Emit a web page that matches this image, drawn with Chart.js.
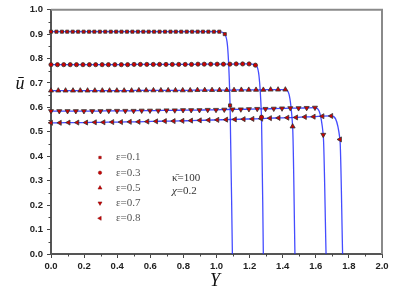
<!DOCTYPE html>
<html lang="en">
<head>
<meta charset="UTF-8">
<title>u-bar vs Y</title>
<script src="https://cdn.jsdelivr.net/npm/chart.js"></script>
<style>
  html, body { margin: 0; padding: 0; background: #fff; }
  canvas { display: block; }
</style>
</head>
<body>
<canvas id="chart" width="403" height="295"></canvas>
<script>
// eps = 0.1
const y01 = [0, 0.033, 0.066, 0.098, 0.131, 0.164, 0.197, 0.230, 0.262, 0.295, 0.328, 0.361, 0.394, 0.426, 0.459, 0.492, 0.525,
  0.558, 0.590, 0.623, 0.656, 0.689, 0.722, 0.754, 0.787, 0.820, 0.853, 0.886, 0.918, 0.951, 0.984, 1.017, 1.050, 1.082];
const u01 = [0.910, 0.910, 0.910, 0.910, 0.910, 0.910, 0.910, 0.910, 0.910, 0.910, 0.910, 0.910, 0.910, 0.910, 0.910, 0.910, 0.910,
  0.910, 0.910, 0.910, 0.910, 0.910, 0.910, 0.910, 0.910, 0.910, 0.910, 0.910, 0.910, 0.910, 0.910, 0.910, 0.900, 0.608];
const end01 = 1.096;

// eps = 0.3
const y03 = [0, 0.039, 0.077, 0.116, 0.154, 0.193, 0.232, 0.270, 0.309, 0.347, 0.386, 0.425, 0.463, 0.502, 0.540, 0.579, 0.618,
  0.656, 0.695, 0.733, 0.772, 0.811, 0.849, 0.888, 0.926, 0.965, 1.004, 1.042, 1.081, 1.119, 1.158, 1.197, 1.235, 1.272];
const u03 = [0.775, 0.775, 0.775, 0.775, 0.775, 0.775, 0.775, 0.775, 0.775, 0.775, 0.775, 0.775, 0.775, 0.776, 0.776, 0.776, 0.776,
  0.776, 0.776, 0.776, 0.776, 0.776, 0.776, 0.777, 0.777, 0.777, 0.777, 0.777, 0.777, 0.778, 0.778, 0.778, 0.773, 0.560];
const end03 = 1.283;

// eps = 0.5
const y05 = [0, 0.044, 0.088, 0.133, 0.177, 0.221, 0.265, 0.310, 0.354, 0.398, 0.442, 0.487, 0.531, 0.575, 0.619, 0.664, 0.708,
  0.752, 0.796, 0.841, 0.885, 0.929, 0.973, 1.018, 1.062, 1.106, 1.150, 1.195, 1.239, 1.283, 1.327, 1.372, 1.416, 1.460];
const u05 = [0.669, 0.669, 0.669, 0.669, 0.669, 0.669, 0.669, 0.669, 0.669, 0.669, 0.669, 0.669, 0.670, 0.670, 0.670, 0.670, 0.670,
  0.670, 0.670, 0.670, 0.671, 0.671, 0.671, 0.671, 0.671, 0.671, 0.672, 0.672, 0.672, 0.672, 0.673, 0.673, 0.673, 0.522];
const end05 = 1.474;

// eps = 0.7
const y07 = [0, 0.050, 0.100, 0.150, 0.199, 0.249, 0.299, 0.349, 0.399, 0.449, 0.499, 0.548, 0.598, 0.648, 0.698, 0.748, 0.798,
  0.847, 0.897, 0.947, 0.997, 1.047, 1.097, 1.147, 1.196, 1.246, 1.296, 1.346, 1.396, 1.446, 1.496, 1.545, 1.595, 1.645];
const u07 = [0.585, 0.585, 0.585, 0.585, 0.585, 0.585, 0.585, 0.586, 0.586, 0.586, 0.586, 0.587, 0.587, 0.587, 0.588, 0.588, 0.589,
  0.589, 0.589, 0.590, 0.590, 0.591, 0.592, 0.592, 0.593, 0.594, 0.594, 0.595, 0.596, 0.597, 0.597, 0.598, 0.599, 0.488];
const end07 = 1.662;

// eps = 0.8
const y08 = [0, 0.053, 0.106, 0.159, 0.212, 0.265, 0.317, 0.370, 0.423, 0.476, 0.529, 0.582, 0.635, 0.688, 0.741, 0.794, 0.846,
  0.899, 0.952, 1.005, 1.058, 1.111, 1.164, 1.217, 1.270, 1.323, 1.375, 1.428, 1.481, 1.534, 1.587, 1.640, 1.693, 1.746];
const u08 = [0.537, 0.537, 0.538, 0.538, 0.538, 0.539, 0.539, 0.540, 0.540, 0.541, 0.541, 0.542, 0.543, 0.544, 0.544, 0.545, 0.546,
  0.547, 0.548, 0.549, 0.550, 0.551, 0.552, 0.553, 0.554, 0.556, 0.557, 0.558, 0.559, 0.561, 0.562, 0.564, 0.565, 0.469];
const end08 = 1.762;

const seriesLabels = ['\u03b5=0.1', '\u03b5=0.3', '\u03b5=0.5', '\u03b5=0.7', '\u03b5=0.8'];
const xMinorTicks = [0.1, 0.3, 0.5, 0.7, 0.9, 1.1, 1.3, 1.5, 1.7, 1.9];
const yMinorTicks = [0.05, 0.15, 0.25, 0.35, 0.45, 0.55, 0.65, 0.75, 0.85, 0.95];

const series = [
  { ys: y01, us: u01, end: end01, style: 'rect', rot: 0, r: 2.2 },
  { ys: y03, us: u03, end: end03, style: 'circle', rot: 0, r: 2.1 },
  { ys: y05, us: u05, end: end05, style: 'triangle', rot: 0, r: 2.9 },
  { ys: y07, us: u07, end: end07, style: 'triangle', rot: 180, r: 2.9 },
  { ys: y08, us: u08, end: end08, style: 'triangle', rot: -90, r: 2.9 }
];

const MARK_FILL = '#d00000';
const MARK_EDGE = '#333';
const LINE_BLUE = 'rgba(35,45,255,0.85)';

const datasets = [];
series.forEach((s, i) => {
  const pts = s.ys.map((y, k) => ({ x: y, y: s.us[k] }));
  datasets.push({
    label: seriesLabels[i] + ' line',
    data: pts.concat([{ x: s.end, y: 0 }]),
    showLine: true,
    borderColor: LINE_BLUE,
    borderWidth: 1.3,
    pointRadius: 0,
    cubicInterpolationMode: 'monotone',
    order: 2
  });
  datasets.push({
    label: seriesLabels[i],
    data: pts,
    showLine: false,
    pointStyle: s.style,
    rotation: s.rot,
    pointRadius: s.r,
    backgroundColor: MARK_FILL,
    borderColor: MARK_EDGE,
    borderWidth: 0.8,
    clip: false,
    order: 1
  });
});

const tickFont = { family: 'Liberation Sans, Arial, sans-serif', size: 9.5, weight: 'bold' };

const decor = {
  id: 'decor',
  afterDraw(chart) {
    const ctx = chart.ctx;
    const a = chart.chartArea;
    const xs = chart.scales.x, ys = chart.scales.y;
    ctx.save();
    // top & right frame
    ctx.strokeStyle = '#8a8a8a';
    ctx.lineWidth = 2;
    ctx.beginPath();
    ctx.moveTo(a.left, a.top);
    ctx.lineTo(a.right, a.top);
    ctx.lineTo(a.right, a.bottom);
    ctx.stroke();
    // minor ticks
    ctx.strokeStyle = '#444';
    ctx.lineWidth = 1;
    ctx.beginPath();
    xMinorTicks.forEach(v => {
      const p = Math.round(xs.getPixelForValue(v)) + 0.5;
      ctx.moveTo(p, a.bottom);
      ctx.lineTo(p, a.bottom + 2.5);
    });
    yMinorTicks.forEach(v => {
      const p = Math.round(ys.getPixelForValue(v)) + 0.5;
      ctx.moveTo(a.left - 2.5, p);
      ctx.lineTo(a.left, p);
    });
    ctx.stroke();

    // legend
    const lx = 100, tx = 116, ly0 = 157.5, dy = 15.2;
    series.forEach((s, i) => {
      const cy = ly0 + i * dy;
      ctx.fillStyle = MARK_FILL;
      ctx.strokeStyle = '#7a1010';
      ctx.lineWidth = 0.5;
      Chart.helpers.drawPoint(ctx, { pointStyle: s.style, rotation: s.rot, radius: s.r * 0.8, borderWidth: 0.5 }, lx, cy);
      ctx.fillStyle = '#555';
      ctx.font = '11px "Liberation Serif", "Times New Roman", serif';
      ctx.textBaseline = 'middle';
      ctx.textAlign = 'left';
      ctx.fillText(seriesLabels[i], tx, cy);
    });

    // parameters
    ctx.fillStyle = '#333';
    ctx.font = '11px "Liberation Serif", "Times New Roman", serif';
    ctx.fillText('\u03ba\u0304=100', 172, 178);
    ctx.font = 'italic 11px "Liberation Serif", "Times New Roman", serif';
    ctx.fillText('\u03c7', 172, 191.5);
    const w = ctx.measureText('\u03c7').width;
    ctx.font = '11px "Liberation Serif", "Times New Roman", serif';
    ctx.fillText('=0.2', 172 + w, 191.5);

    // axis titles
    ctx.fillStyle = '#111';
    ctx.font = 'italic 18px "Liberation Serif", "Times New Roman", serif';
    ctx.textAlign = 'center';
    ctx.fillText('\u016b', 20, 84);
    ctx.fillText('Y', 215, 281);
    ctx.restore();
  }
};

new Chart(document.getElementById('chart'), {
  type: 'scatter',
  data: { datasets },
  options: {
    responsive: false,
    animation: false,
    layout: { padding: { left: 0, top: 9, right: 21, bottom: 0 } },
    plugins: { legend: { display: false }, tooltip: { enabled: false } },
    scales: {
      x: {
        type: 'linear', min: 0, max: 2,
        afterFit(scale) { scale.height = 41; },
        border: { color: '#555', width: 2 },
        grid: { drawOnChartArea: false, tickLength: 4, tickColor: '#444' },
        ticks: { stepSize: 0.2, padding: 3, color: '#222', font: tickFont, maxRotation: 0,
          callback: v => v.toFixed(1) }
      },
      y: {
        type: 'linear', min: 0, max: 1,
        afterFit(scale) { scale.width = 51; },
        border: { color: '#555', width: 2 },
        grid: { drawOnChartArea: false, tickLength: 4, tickColor: '#444' },
        ticks: { stepSize: 0.1, padding: 4, color: '#222', font: tickFont,
          callback: v => v.toFixed(1) }
      }
    }
  },
  plugins: [decor]
});
</script>
</body>
</html>
